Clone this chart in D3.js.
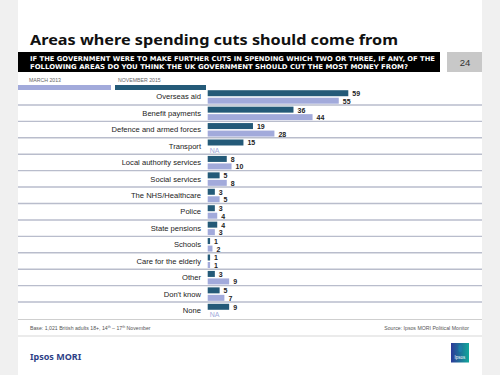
<!DOCTYPE html>
<html>
<head>
<meta charset="utf-8">
<script src="https://cdn.jsdelivr.net/npm/d3@7"></script>
<style>
  body { margin: 0; background: #f0f0f0; }
  svg { display: block; }
</style>
</head>
<body>
<div id="chart"></div>
<script>
// categories, top to bottom
const categories = ["Overseas aid", "Benefit payments", "Defence and armed forces", "Transport",
    "Local authority services", "Social services", "The NHS/Healthcare", "Police", "State pensions",
    "Schools", "Care for the elderly", "Other", "Don't know", "None"];
// November 2015 values (%)
const nov2015 = [59, 36, 19, 15, 8, 5, 3, 3, 4, 1, 1, 3, 5, 9];
// March 2013 values (%), null = not asked
const mar2013 = [55, 44, 28, null, 10, 8, 5, 4, 3, 2, 1, 9, 7, null];
// legend entries
const seriesNames = ["MARCH 2013", "NOVEMBER 2015"];

const width = 500, height = 375;
const dark = "#245a78", light = "#a2aadb";

let svg = d3.select("#chart").append("svg")
    .attr("width", width).attr("height", height);

// white page
svg.append("rect").attr("x", 18).attr("y", 0).attr("width", 464).attr("height", height).attr("fill", "#ffffff");

// title
svg.append("text")
    .attr("x", 30).attr("y", 44.5)
    .attr("font-family", "Noto Sans, sans-serif")
    .attr("font-weight", "bold")
    .attr("font-size", 15)
    .attr("textLength", 368).attr("lengthAdjust", "spacingAndGlyphs")
    .attr("fill", "#111")
    .text("Areas where spending cuts should come from");

// question box
svg.append("rect").attr("x", 18).attr("y", 52).attr("width", 422).attr("height", 20).attr("fill", "#000");
const qLines = ["IF THE GOVERNMENT WERE TO MAKE FURTHER CUTS IN SPENDING WHICH TWO OR THREE, IF ANY, OF THE",
    "FOLLOWING AREAS DO YOU THINK THE UK GOVERNMENT SHOULD CUT THE MOST MONEY FROM?"];
const qLens = [405, 378];
qLines.forEach((t, i) => {
    svg.append("text")
        .attr("x", 30).attr("y", 60.5 + i * 8)
        .attr("font-family", "DejaVu Sans, sans-serif")
        .attr("font-weight", "bold")
        .attr("font-size", 6.6)
        .attr("textLength", qLens[i]).attr("lengthAdjust", "spacingAndGlyphs")
        .attr("fill", "#fff")
        .text(t);
});

// page number box
svg.append("rect").attr("x", 447).attr("y", 52).attr("width", 35).attr("height", 20).attr("fill", "#c8c8c8");
svg.append("text").attr("x", 465).attr("y", 65.5).attr("text-anchor", "middle")
    .attr("font-family", "Liberation Sans, Arial, sans-serif").attr("font-size", 9.5).attr("fill", "#333")
    .text("24");

// legend
const legendX = [18, 115], legendW = [93, 91], legendC = [light, dark];
seriesNames.forEach((n, i) => {
    svg.append("text").attr("x", legendX[i] + (i === 0 ? 11 : 3)).attr("y", 81.5)
        .attr("font-family", "Liberation Sans, Arial, sans-serif").attr("font-size", 5.2).attr("fill", "#666")
        .text(n);
    svg.append("rect").attr("x", legendX[i]).attr("y", 85).attr("width", legendW[i]).attr("height", 5)
        .attr("fill", legendC[i]);
});

// scales
let x = d3.scaleLinear().domain([0, 59]).range([207.7, 348.3]);
let y = d3.scaleBand().domain(categories).range([88.5, 318.5]);
const bh = 6;

// separator lines
svg.selectAll(".sep")
    .data(categories.slice(0, -1))
    .enter().append("line")
    .attr("class", "sep")
    .attr("x1", 18).attr("x2", 482)
    .attr("y1", d => y(d) + y.bandwidth())
    .attr("y2", d => y(d) + y.bandwidth())
    .attr("stroke", "#b9bdcc").attr("stroke-width", 1.4);

// row labels
svg.selectAll(".label")
    .data(categories)
    .enter().append("text")
    .attr("class", "label")
    .attr("x", 201)
    .attr("y", d => y(d) + y.bandwidth() / 2)
    .attr("dy", "0.35em")
    .attr("text-anchor", "end")
    .attr("font-family", "Liberation Sans, Arial, sans-serif")
    .attr("font-size", 7.6)
    .attr("fill", "#222")
    .text(d => d);

let rows = svg.selectAll(".row")
    .data(categories)
    .enter().append("g")
    .attr("class", "row")
    .attr("transform", d => `translate(0,${y(d) + y.bandwidth() / 2})`);

// November 2015 bars
rows.append("rect")
    .attr("x", x(0))
    .attr("y", -6.5)
    .attr("width", (d, i) => x(nov2015[i]) - x(0))
    .attr("height", bh)
    .attr("fill", dark);
rows.append("text")
    .attr("x", (d, i) => x(nov2015[i]) + 4)
    .attr("y", -3)
    .attr("dy", "0.35em")
    .attr("font-family", "Liberation Sans, Arial, sans-serif")
    .attr("font-size", 7)
    .attr("font-weight", "bold")
    .attr("fill", "#222")
    .text((d, i) => nov2015[i]);

// March 2013 bars
rows.filter((d, i) => mar2013[i] !== null).append("rect")
    .attr("x", x(0))
    .attr("y", 1)
    .attr("width", d => x(mar2013[categories.indexOf(d)]) - x(0))
    .attr("height", bh)
    .attr("fill", light);
rows.append("text")
    .attr("x", (d, i) => mar2013[i] === null ? x(0) + 2 : x(mar2013[i]) + 4)
    .attr("y", 4.5)
    .attr("dy", "0.35em")
    .attr("font-family", "Liberation Sans, Arial, sans-serif")
    .attr("font-size", 7)
    .attr("font-weight", (d, i) => mar2013[i] === null ? "normal" : "bold")
    .attr("fill", (d, i) => mar2013[i] === null ? light : "#222")
    .text((d, i) => mar2013[i] === null ? "NA" : mar2013[i]);

// footer
svg.append("line").attr("x1", 18).attr("x2", 482).attr("y1", 319.5).attr("y2", 319.5)
    .attr("stroke", "#cfcfcf").attr("stroke-width", 1.2);
svg.append("line").attr("x1", 18).attr("x2", 482).attr("y1", 336).attr("y2", 336)
    .attr("stroke", "#d8d8d8").attr("stroke-width", 1.2);
let base = svg.append("text").attr("x", 30).attr("y", 330)
    .attr("font-family", "Liberation Sans, Arial, sans-serif").attr("font-size", 5.2).attr("fill", "#555");
base.append("tspan").text("Base: 1,021 British adults 18+, 14");
base.append("tspan").attr("font-size", 3.5).attr("dy", -1.8).text("th");
base.append("tspan").attr("dy", 1.8).text(" \u2013 17");
base.append("tspan").attr("font-size", 3.5).attr("dy", -1.8).text("th");
base.append("tspan").attr("dy", 1.8).text(" November");
svg.append("text").attr("x", 469).attr("y", 330).attr("text-anchor", "end")
    .attr("font-family", "Liberation Sans, Arial, sans-serif").attr("font-size", 5.2).attr("fill", "#555")
    .text("Source: Ipsos MORI Political Monitor");

svg.append("text").attr("x", 30).attr("y", 360)
    .attr("font-family", "Noto Sans, sans-serif").attr("font-weight", "bold").attr("font-size", 9)
    .attr("fill", "#2e3f87")
    .text("Ipsos MORI");

// logo
let grad = svg.append("defs").append("linearGradient").attr("id", "logoGrad")
    .attr("x1", "0%").attr("x2", "100%").attr("y1", "0%").attr("y2", "0%");
grad.append("stop").attr("offset", "0%").attr("stop-color", "#2c3a99");
grad.append("stop").attr("offset", "100%").attr("stop-color", "#12a89a");
svg.append("rect").attr("x", 451).attr("y", 343).attr("width", 18).attr("height", 19.5).attr("fill", "url(#logoGrad)");
svg.append("rect").attr("x", 458.5).attr("y", 345).attr("width", 3.5).attr("height", 7).attr("rx", 1.5).attr("fill", "#1c7fa8");
svg.append("text").attr("x", 460).attr("y", 358.5).attr("text-anchor", "middle")
    .attr("font-family", "Liberation Sans, Arial, sans-serif").attr("font-size", 4.5).attr("fill", "#fff")
    .text("Ipsos");
</script>
</body>
</html>
